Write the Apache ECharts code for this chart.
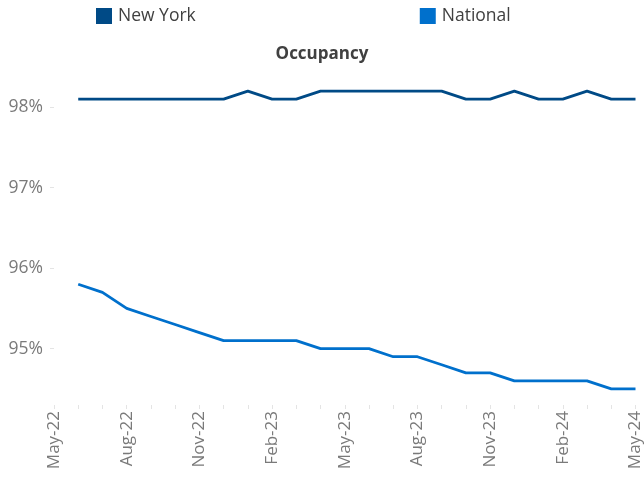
<!DOCTYPE html>
<html>
<head>
<meta charset="utf-8">
<script src="https://cdn.jsdelivr.net/npm/echarts@6/dist/echarts.min.js"></script>
<style>
  html, body { margin: 0; padding: 0; background: #fff; }
  #occChart { width: 644px; height: 480px; }
</style>
</head>
<body>
<div id="occChart"></div>
<script>
  // months on the axis (May-22 has no data point)
  var months = ['May-22','Jun-22','Jul-22','Aug-22','Sep-22','Oct-22','Nov-22','Dec-22','Jan-23',
                'Feb-23','Mar-23','Apr-23','May-23','Jun-23','Jul-23','Aug-23','Sep-23','Oct-23',
                'Nov-23','Dec-23','Jan-24','Feb-24','Mar-24','Apr-24','May-24'];
  var newYork = ['-', 98.1, 98.1, 98.1, 98.1, 98.1, 98.1, 98.1, 98.2, 98.1, 98.1, 98.2, 98.2,
                 98.2, 98.2, 98.2, 98.2, 98.1, 98.1, 98.2, 98.1, 98.1, 98.2, 98.1, 98.1];
  var national = ['-', 95.8, 95.7, 95.5, 95.4, 95.3, 95.2, 95.1, 95.1, 95.1, 95.1, 95.0, 95.0,
                  95.0, 94.9, 94.9, 94.8, 94.7, 94.7, 94.6, 94.6, 94.6, 94.6, 94.5, 94.5];
  var yTicks = [95, 96, 97, 98];

  var fontName = 'Open Sans';
  var myChart = echarts.init(document.getElementById('occChart'));
  var option = {
    animation: false,
    textStyle: { fontFamily: fontName },
    title: {
      text: 'Occupancy',
      left: 'center',
      top: 46,
      padding: 0,
      textStyle: { fontFamily: fontName, fontSize: 17, fontWeight: 'bold', color: '#404040' }
    },
    legend: {
      left: 96,
      top: 7,
      padding: 0,
      itemWidth: 16,
      itemHeight: 16,
      itemGap: 224,
      icon: 'rect',
      textStyle: { fontFamily: fontName, fontSize: 17.5, color: '#404040', padding: [0, 0, 0, 1] },
      data: ['New York', 'National']
    },
    grid: { left: 54, right: 7, top: 67, bottom: 75, containLabel: false },
    xAxis: {
      type: 'category',
      data: months,
      boundaryGap: false,
      axisLine: { show: false },
      axisTick: { show: true, interval: 0, length: 4, lineStyle: { color: '#e4e4e4' } },
      axisLabel: {
        interval: 2,
        rotate: 90,
        margin: 6,
        fontSize: 17,
        color: '#7a7a7a',
        fontFamily: fontName
      },
      splitLine: { show: false }
    },
    yAxis: {
      type: 'value',
      min: 94.3,
      max: 98.5,
      axisLine: { show: false },
      axisTick: { show: true, length: 4, customValues: yTicks, lineStyle: { color: '#e4e4e4' } },
      axisLabel: {
        customValues: yTicks,
        margin: 11,
        fontSize: 17.5,
        color: '#7a7a7a',
        fontFamily: fontName,
        formatter: function (v) { return Math.round(v) + '%'; }
      },
      splitLine: { show: false }
    },
    series: [
      {
        name: 'New York',
        type: 'line',
        data: newYork,
        symbol: 'none',
        itemStyle: { color: '#004a86' },
        lineStyle: { color: '#004a86', width: 2.8 }
      },
      {
        name: 'National',
        type: 'line',
        data: national,
        symbol: 'none',
        itemStyle: { color: '#0070cc' },
        lineStyle: { color: '#0070cc', width: 2.8 }
      }
    ]
  };
  myChart.setOption(option);
</script>
</body>
</html>
